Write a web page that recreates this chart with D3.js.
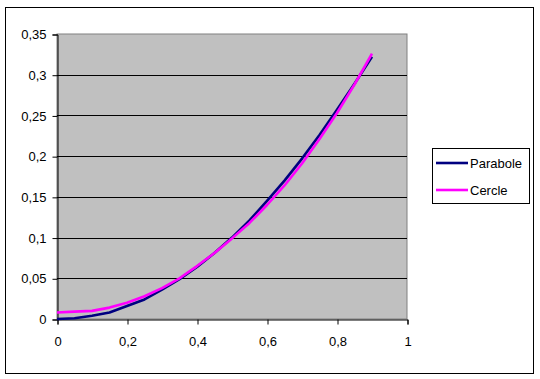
<!DOCTYPE html>
<html lang="fr">
<head>
<meta charset="utf-8">
<title>Parabole / Cercle</title>
<script src="https://d3js.org/d3.v7.min.js"></script>
<style>
body { margin: 0; background: #fff; }
text { font-family: "Liberation Sans", Arial, sans-serif; font-size: 13px; fill: #000; }
</style>
</head>
<body>
<div id="chart"></div>
<script>
// data
var xs       = [0, 0.05, 0.1, 0.15, 0.2, 0.25, 0.3, 0.35, 0.4, 0.45, 0.5, 0.55, 0.6, 0.65, 0.7, 0.75, 0.8, 0.85, 0.9];
var parabole = [0, 0.001, 0.004, 0.008, 0.016, 0.024, 0.036, 0.049, 0.064, 0.081, 0.1, 0.121, 0.145, 0.17, 0.197, 0.226, 0.257, 0.289, 0.322];
var cercle   = [0.008, 0.009, 0.010, 0.014, 0.020, 0.028, 0.038, 0.050, 0.065, 0.081, 0.099, 0.118, 0.140, 0.164, 0.191, 0.221, 0.253, 0.288, 0.326];
var yTicks = [0, 0.05, 0.1, 0.15, 0.2, 0.25, 0.3, 0.35];
var xTicks = [0, 0.2, 0.4, 0.6, 0.8, 1];
var seriesNames = ["Parabole", "Cercle"];
var seriesColors = ["#000080", "#ff00ff"];

var W = 540, H = 379;
var plot = {left: 57, top: 34, right: 407, bottom: 319};

var svg = d3.select("#chart").append("svg")
  .attr("width", W).attr("height", H);

// outer frame
svg.append("rect")
  .attr("x", 5.5).attr("y", 7.5)
  .attr("width", 528).attr("height", 366)
  .attr("fill", "#fff").attr("stroke", "#000");

var x = d3.scaleLinear().domain([0, 1]).range([plot.left, plot.right]);
var y = d3.scaleLinear().domain([0, 0.35]).range([plot.bottom, plot.top]);

// plot area
svg.append("rect")
  .attr("x", plot.left).attr("y", plot.top)
  .attr("width", plot.right - plot.left).attr("height", plot.bottom - plot.top)
  .attr("fill", "#c0c0c0")
  .attr("stroke", "#808080");

// gridlines
svg.append("g").selectAll("line")
  .data(yTicks.slice(1, -1))
  .enter().append("line")
    .attr("x1", plot.left).attr("x2", plot.right)
    .attr("y1", function(d) { return Math.round(y(d)) + 0.5; })
    .attr("y2", function(d) { return Math.round(y(d)) + 0.5; })
    .attr("stroke", "#000");

// axes
var fmt = function(d) { return String(d).replace(".", ","); };

var yAxis = svg.append("g")
  .attr("transform", "translate(" + (plot.left + 0.5) + ",0.5)")
  .call(d3.axisLeft(y).tickValues(yTicks).tickFormat(fmt).tickSize(5).tickPadding(6));
var xAxis = svg.append("g")
  .attr("transform", "translate(0.5," + (plot.bottom + 0.5) + ")")
  .call(d3.axisBottom(x).tickValues(xTicks).tickFormat(fmt).tickSize(5).tickPadding(12));

[yAxis, xAxis].forEach(function(a) {
  a.attr("font-family", null).attr("font-size", null);
  a.select(".domain").attr("stroke", "#000");
  a.selectAll(".tick line").attr("stroke", "#000");
});

// lines
var line = d3.line()
  .x(function(d, i) { return x(xs[i]); })
  .y(function(d) { return y(d); });

[parabole, cercle].forEach(function(s, k) {
  svg.append("path")
    .datum(s)
    .attr("d", line)
    .attr("fill", "none")
    .attr("stroke", seriesColors[k])
    .attr("stroke-width", 2.6)
    .attr("stroke-linejoin", "round");
});

// legend
var lg = svg.append("g").attr("transform", "translate(432,148)");
lg.append("rect")
  .attr("x", 0.5).attr("y", 0.5)
  .attr("width", 97).attr("height", 55)
  .attr("fill", "#fff").attr("stroke", "#000");
seriesNames.forEach(function(n, i) {
  var yy = 15 + i * 27;
  lg.append("line")
    .attr("x1", 4).attr("x2", 36)
    .attr("y1", yy).attr("y2", yy)
    .attr("stroke", seriesColors[i]).attr("stroke-width", 2.6);
  lg.append("text")
    .attr("x", 38).attr("y", yy + 4.5)
    .text(n);
});
</script>
</body>
</html>
